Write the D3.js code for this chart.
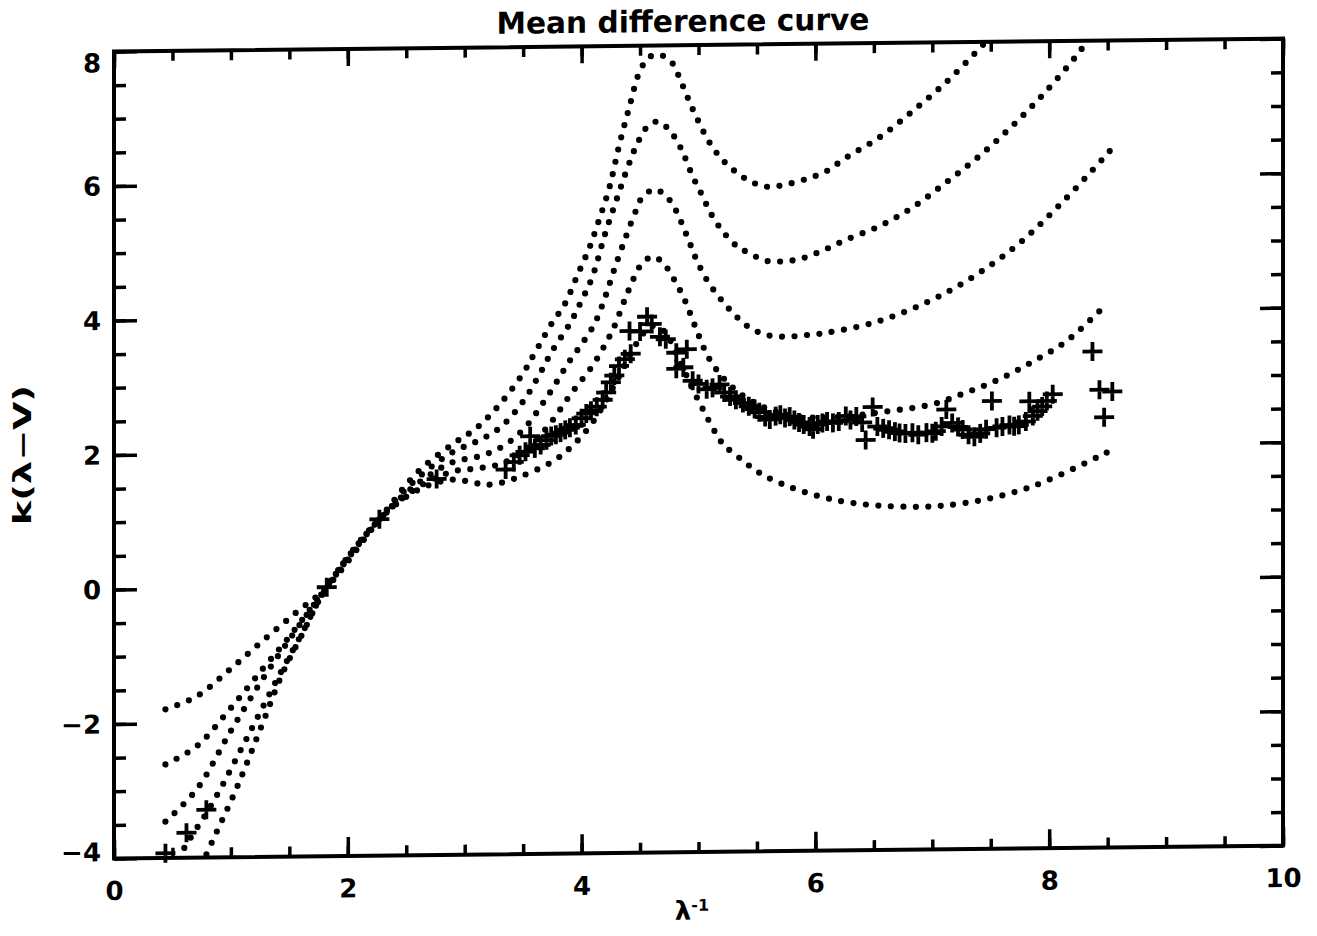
<!DOCTYPE html>
<html lang="en">
<head>
<meta charset="UTF-8">
<title>Mean difference curve</title>
<script src="https://cdn.jsdelivr.net/npm/d3@7"></script>
<style>
  body { margin: 0; background: #fff; }
  svg text { font-family: "DejaVu Sans", sans-serif; font-weight: bold; fill: #000; }
</style>
</head>
<body>
<div id="chart"></div>
<script>
// ---- data: x = 1/lambda, y = k(lambda - V) ----
var xMajor = [0, 2, 4, 6, 8, 10];
var xMinor = d3.range(0, 10.01, 0.5);
var yMajor = [-4, -2, 0, 2, 4, 6, 8];
var yMinor = d3.range(-4, 8.01, 0.5);

// five dotted model curves, top (bump ~7.9) to bottom
var curve1 = [[0.44,-1.79],[0.71,-1.60],[0.99,-1.21],[1.27,-0.79],[1.56,-0.37],[1.82,0],[2.27,1.0],[2.6,1.70],[2.9,2.11],[3.1,2.34],[3.3,2.69],[3.5,3.15],[3.6,3.45],[3.75,3.90],[3.85,4.15],[3.97,4.62],[4.07,5.02],[4.15,5.42],[4.24,5.91],[4.32,6.51],[4.41,7.10],[4.5,7.63],[4.58,7.83],[4.67,7.86],[4.77,7.75],[4.85,7.46],[4.92,7.17],[4.99,6.90],[5.08,6.59],[5.18,6.34],[5.31,6.12],[5.46,5.95],[5.6,5.88],[5.74,5.91],[5.92,5.99],[6.09,6.10],[6.26,6.30],[6.55,6.60],[6.83,6.98],[7.12,7.41],[7.38,7.86],[7.5,8.08]];
var curve2 = [[0.44,-2.61],[0.71,-2.34],[0.99,-1.80],[1.27,-1.21],[1.5,-0.73],[1.82,0],[2.27,1.0],[2.6,1.61],[2.9,1.99],[3.1,2.14],[3.3,2.34],[3.5,2.73],[3.64,3.13],[3.75,3.48],[3.9,3.88],[4.0,4.22],[4.09,4.56],[4.2,5.20],[4.3,5.72],[4.4,6.22],[4.47,6.52],[4.56,6.79],[4.65,6.87],[4.73,6.78],[4.79,6.65],[4.84,6.50],[4.88,6.35],[4.95,6.05],[5.03,5.77],[5.11,5.48],[5.21,5.22],[5.33,5.00],[5.42,4.91],[5.58,4.78],[5.72,4.77],[5.86,4.80],[6.03,4.90],[6.26,5.08],[6.55,5.28],[6.83,5.55],[7.12,5.92],[7.4,6.30],[7.68,6.74],[7.97,7.25],[8.26,7.84],[8.35,8.06]];
var curve3 = [[0.44,-3.46],[0.71,-2.98],[0.99,-2.15],[1.27,-1.36],[1.55,-0.65],[1.82,0],[2.27,1.0],[2.6,1.53],[2.9,1.84],[3.1,1.91],[3.3,2.04],[3.5,2.31],[3.7,2.78],[3.9,3.33],[4.0,3.57],[4.11,3.87],[4.2,4.26],[4.28,4.68],[4.37,5.12],[4.47,5.57],[4.52,5.75],[4.62,5.86],[4.69,5.81],[4.77,5.66],[4.85,5.38],[4.92,5.08],[4.98,4.82],[5.07,4.51],[5.18,4.24],[5.29,4.02],[5.42,3.81],[5.58,3.68],[5.75,3.65],[5.92,3.67],[6.09,3.70],[6.55,3.87],[7.12,4.28],[7.68,4.91],[8.11,5.60],[8.53,6.38]];
var curve4 = [[0.44,-4.34],[0.61,-3.83],[0.85,-3.17],[1.14,-2.22],[1.42,-1.28],[1.6,-0.71],[1.82,0],[2.27,1.0],[2.6,1.47],[2.9,1.70],[3.1,1.74],[3.3,1.80],[3.5,1.98],[3.7,2.33],[3.92,2.86],[4.09,3.24],[4.21,3.59],[4.28,3.83],[4.37,4.23],[4.47,4.63],[4.52,4.77],[4.61,4.86],[4.7,4.76],[4.8,4.49],[4.88,4.22],[4.98,3.78],[5.08,3.37],[5.2,3.07],[5.35,2.82],[5.55,2.61],[5.8,2.47],[6.05,2.44],[6.3,2.46],[6.6,2.52],[7.0,2.62],[7.29,2.79],[7.57,2.98],[7.85,3.23],[8.15,3.54],[8.49,4.08]];
var curve5 = [[0.44,-5.31],[0.82,-3.84],[1.05,-2.97],[1.27,-2.02],[1.44,-1.28],[1.6,-0.73],[1.82,0],[2.27,1.0],[2.6,1.43],[2.9,1.58],[3.1,1.52],[3.24,1.50],[3.47,1.61],[3.75,1.83],[3.92,2.06],[4.1,2.42],[4.3,3.02],[4.45,3.52],[4.6,3.83],[4.7,3.76],[4.85,3.26],[4.98,2.78],[5.21,2.06],[5.29,1.94],[5.58,1.57],[6.15,1.22],[6.8,1.10],[7.29,1.15],[7.85,1.38],[8.51,1.89]];

// measured mean differences (plus signs)
var meanPoints = [[0.44,-3.93],[0.62,-3.63],[0.79,-3.29],[1.82,0.0],[2.27,1.0],[2.76,1.59],
  [3.35,1.72],[3.42,1.83],[3.47,1.93],[3.52,1.98],[3.56,2.21],[3.6,2.03],[3.65,2.08],[3.7,2.15],[3.74,2.21],[3.78,2.23],[3.82,2.26],[3.86,2.30],[3.9,2.33],[3.95,2.37],
  [4.0,2.47],[4.04,2.54],[4.08,2.58],[4.13,2.64],[4.18,2.74],[4.21,2.85],[4.25,3.0],[4.28,3.10],[4.32,3.24],[4.37,3.34],[4.42,3.42],[4.41,3.76],[4.5,3.75],[4.56,3.97],[4.6,3.86],[4.67,3.67],[4.72,3.63],[4.81,3.43],[4.9,3.48],[4.81,3.19],[4.87,3.21],[4.95,3.01],
  [5.0,2.96],[5.07,2.88],[5.12,2.90],[5.18,2.95],[5.22,2.83],[5.27,2.77],[5.32,2.72],[5.38,2.67],[5.43,2.62],[5.48,2.58],[5.52,2.53],[5.57,2.46],[5.61,2.42],[5.66,2.47],[5.7,2.49],[5.74,2.44],[5.78,2.46],[5.82,2.41],[5.86,2.37],[5.9,2.34],[5.95,2.31],[5.98,2.27],
  [6.02,2.34],[6.06,2.36],[6.1,2.38],[6.15,2.36],[6.2,2.38],[6.26,2.46],[6.3,2.40],[6.35,2.45],[6.4,2.36],[6.43,2.10],[6.49,2.59],[6.53,2.30],[6.58,2.27],[6.63,2.25],[6.68,2.22],[6.72,2.20],[6.77,2.19],[6.83,2.20],[6.88,2.17],[6.95,2.20],
  [7.0,2.19],[7.03,2.22],[7.08,2.29],[7.12,2.54],[7.17,2.34],[7.22,2.28],[7.26,2.24],[7.31,2.16],[7.36,2.13],[7.41,2.18],[7.46,2.24],[7.51,2.66],[7.55,2.26],[7.6,2.28],[7.66,2.30],[7.7,2.28],[7.74,2.30],[7.8,2.35],[7.83,2.65],[7.86,2.43],[7.9,2.50],[7.94,2.57],[7.98,2.65],
  [8.03,2.75],[8.37,3.38],[8.43,2.81],[8.54,2.78],[8.47,2.40]];

// ---- layout ----
var width = 1317, height = 936;
var plotLeft = 114, plotRight = 1283, plotTop = 51.5, plotBottom = 858.5;

var svg = d3.select("#chart").append("svg")
  .attr("width", width)
  .attr("height", height);

// the scan is slightly sheared: the right edge of the frame sits ~13px higher
var skew = -0.63;
var lift = -Math.tan(skew * Math.PI / 180) * plotLeft;
var g = svg.append("g")
  .attr("transform", "translate(0," + lift + ") skewY(" + skew + ")");

var x = d3.scaleLinear().domain([0, 10]).range([plotLeft, plotRight]);
var y = d3.scaleLinear().domain([-4, 8]).range([plotBottom, plotTop]);

g.append("clipPath").attr("id", "plotclip")
  .append("rect")
  .attr("x", plotLeft).attr("y", plotTop)
  .attr("width", plotRight - plotLeft).attr("height", plotBottom - plotTop);

// dotted curves
var line = d3.line()
  .x(d => x(d[0]))
  .y(d => y(d[1]))
  .curve(d3.curveCatmullRom.alpha(0.5));

g.append("g")
  .attr("clip-path", "url(#plotclip)")
  .selectAll("path")
  .data([curve1, curve2, curve3, curve4, curve5])
  .enter()
  .append("path")
  .attr("d", line)
  .attr("fill", "none")
  .attr("stroke", "#000")
  .attr("stroke-width", 6.2)
  .attr("stroke-linecap", "round")
  .attr("stroke-dasharray", "0 12.5");

// plus signs
g.append("g")
  .selectAll("path")
  .data(meanPoints)
  .enter()
  .append("path")
  .attr("transform", d => "translate(" + x(d[0]) + "," + y(d[1]) + ")")
  .attr("d", "M-10,0H10M0,-9.5V9.5")
  .attr("stroke", "#000")
  .attr("stroke-width", 3.8)
  .attr("fill", "none");

// axes, ticks pointing inward on all four sides
function styleAxis(sel) {
  sel.select(".domain").remove();
  sel.selectAll(".tick line").attr("stroke", "#000").attr("stroke-width", 3.5);
  sel.selectAll("text").style("font-size", "26px");
}

g.append("g")
  .attr("transform", "translate(0," + plotBottom + ")")
  .call(d3.axisBottom(x).tickValues(xMinor).tickSize(-10).tickFormat(""))
  .call(styleAxis);
g.append("g")
  .attr("transform", "translate(0," + plotBottom + ")")
  .call(d3.axisBottom(x).tickValues(xMajor).tickSizeInner(-19).tickSizeOuter(0).tickPadding(23).tickFormat(d3.format("d")))
  .call(styleAxis);
g.append("g")
  .attr("transform", "translate(0," + plotTop + ")")
  .call(d3.axisTop(x).tickValues(xMinor).tickSize(-10).tickFormat(""))
  .call(styleAxis);
g.append("g")
  .attr("transform", "translate(0," + plotTop + ")")
  .call(d3.axisTop(x).tickValues(xMajor).tickSize(-17).tickFormat(""))
  .call(styleAxis);

g.append("g")
  .attr("transform", "translate(" + plotLeft + ",0)")
  .call(d3.axisLeft(y).tickValues(yMinor).tickSize(-12).tickFormat(""))
  .call(styleAxis);
var yAxis = g.append("g")
  .attr("transform", "translate(" + plotLeft + ",0)")
  .call(d3.axisLeft(y).tickValues(yMajor).tickSizeInner(-23).tickSizeOuter(0).tickPadding(13).tickFormat(d3.format("d")))
  .call(styleAxis);
// end labels are pulled inside the frame, as on the original
yAxis.selectAll("text").attr("dy", d => d === 8 ? "0.78em" : d === -4 ? "0.08em" : "0.34em");

g.append("g")
  .attr("transform", "translate(" + plotRight + ",0)")
  .call(d3.axisRight(y).tickValues(yMinor).tickSize(-12).tickFormat(""))
  .call(styleAxis);
g.append("g")
  .attr("transform", "translate(" + plotRight + ",0)")
  .call(d3.axisRight(y).tickValues(yMajor).tickSize(-23).tickFormat(""))
  .call(styleAxis);

// frame
g.append("rect")
  .attr("x", plotLeft).attr("y", plotTop)
  .attr("width", plotRight - plotLeft).attr("height", plotBottom - plotTop)
  .attr("fill", "none")
  .attr("stroke", "#000")
  .attr("stroke-width", 4);

// title and axis titles
g.append("text")
  .attr("x", 683).attr("y", 38)
  .attr("text-anchor", "middle")
  .attr("textLength", 373)
  .attr("lengthAdjust", "spacingAndGlyphs")
  .style("font-size", "30px")
  .text("Mean difference curve");

var xTitle = g.append("text")
  .attr("x", 692).attr("y", 926)
  .attr("text-anchor", "middle")
  .style("font-size", "26px");
xTitle.append("tspan").text("λ");
xTitle.append("tspan").attr("dy", "-0.55em").style("font-size", "16px").text("-1");

svg.append("text")
  .attr("transform", "translate(31,455) rotate(-90)")
  .attr("text-anchor", "middle")
  .attr("textLength", 140)
  .attr("lengthAdjust", "spacingAndGlyphs")
  .style("font-size", "24px")
  .text("k(λ−V)");
</script>
</body>
</html>
